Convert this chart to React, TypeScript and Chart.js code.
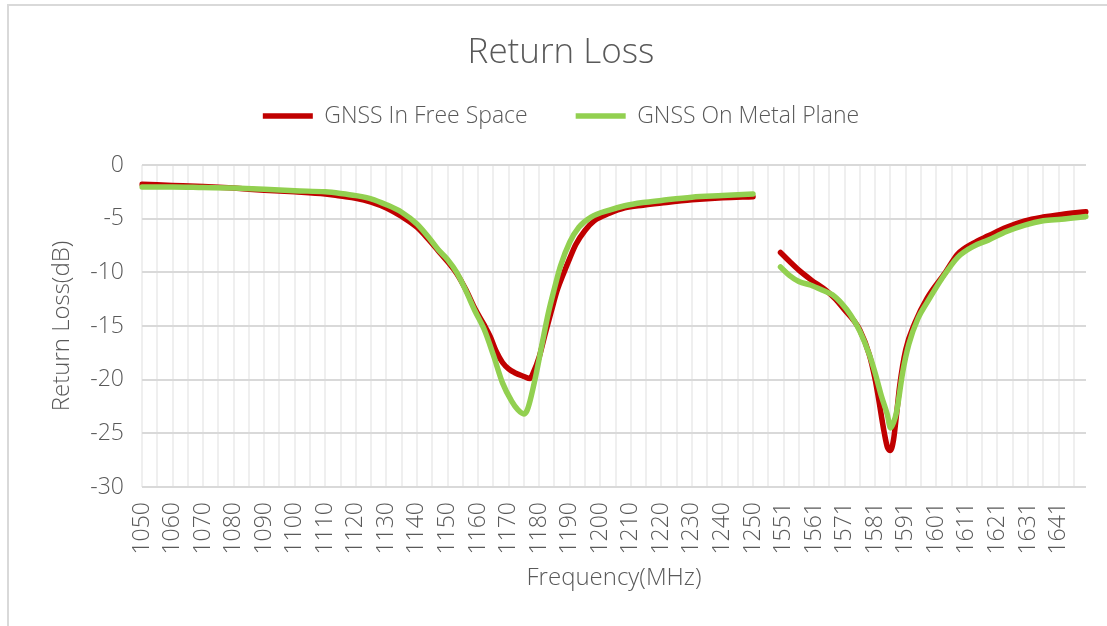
import React, { useEffect, useRef } from 'react';
import { Chart, registerables } from 'chart.js';

Chart.register(...registerables);

const FONT = '"Open Sans", "Noto Sans", sans-serif';
const TEXT_COLOR = '#595959';

const chartTitle = 'Return Loss';
const xAxisTitle = 'Frequency(MHz)';
const yAxisTitle = 'Return Loss(dB)';
const seriesNames = ['GNSS In Free Space', 'GNSS On Metal Plane'];
const seriesColors = ['#c00000', '#92d050'];

// category axis: 1050..1250, eight empty slots, 1550..1650
const band1Start = 1050;
const band1End = 1250;
const gapSlots = 8;
const band2Start = 1550;
const band2End = 1650;

const yMin = -30;
const yMax = 0;
const yStep = 5;
const labelEvery = 10;
const gridEvery = 5;

// GNSS In Free Space
const freeFreq1 = [1050, 1060, 1070, 1080, 1090, 1100, 1110, 1115, 1120, 1125, 1130, 1135, 1140, 1144, 1147, 1150, 1153, 1156, 1159, 1162, 1164, 1166, 1168, 1170, 1172, 1175, 1177, 1178, 1180, 1182, 1184, 1186, 1188, 1190, 1192, 1195, 1198, 1203, 1208, 1214, 1220, 1230, 1240, 1250];
const freeLoss1 = [-1.8, -1.9, -2.0, -2.15, -2.35, -2.5, -2.7, -2.9, -3.1, -3.45, -4.0, -4.8, -5.8, -7.0, -8.0, -9.0, -10.1, -11.6, -13.4, -14.9, -16.0, -17.4, -18.4, -19.0, -19.35, -19.7, -19.9, -19.4, -17.9, -15.7, -13.6, -11.6, -10.1, -8.7, -7.4, -6.1, -5.2, -4.5, -4.0, -3.75, -3.55, -3.25, -3.05, -2.95];
const freeFreq2 = [1550, 1553, 1556, 1560, 1565, 1568, 1571, 1574, 1576, 1579, 1581, 1582, 1584, 1585, 1586, 1587, 1588, 1589, 1591, 1594, 1598, 1604, 1608, 1613, 1618, 1624, 1630, 1636, 1642, 1650];
const freeLoss2 = [-8.15, -9.0, -9.8, -10.7, -11.7, -12.5, -13.5, -14.5, -15.4, -17.6, -20.0, -21.6, -25.0, -26.3, -26.6, -25.6, -23.2, -20.6, -17.2, -14.7, -12.4, -10.0, -8.3, -7.3, -6.6, -5.8, -5.2, -4.85, -4.6, -4.35];

// GNSS On Metal Plane
const metalFreq1 = [1050, 1060, 1070, 1080, 1090, 1100, 1110, 1115, 1120, 1125, 1130, 1135, 1140, 1144, 1147, 1150, 1153, 1156, 1159, 1162, 1165, 1168, 1171, 1173, 1175, 1176, 1177, 1179, 1181, 1183, 1185, 1187, 1190, 1193, 1197, 1203, 1208, 1214, 1220, 1230, 1240, 1250];
const metalLoss1 = [-2.05, -2.05, -2.1, -2.15, -2.25, -2.4, -2.5, -2.65, -2.85, -3.15, -3.7, -4.4, -5.5, -6.8, -7.9, -8.8, -10.0, -11.7, -13.6, -15.3, -17.7, -20.3, -22.0, -22.8, -23.2, -22.9, -22.0, -19.5, -16.6, -13.8, -11.5, -9.4, -7.2, -5.8, -4.85, -4.2, -3.8, -3.5, -3.3, -3.0, -2.85, -2.7];
const metalFreq2 = [1550, 1553, 1556, 1560, 1564, 1567, 1570, 1573, 1576, 1579, 1581, 1583, 1585, 1586, 1587, 1588, 1590, 1592, 1595, 1598, 1603, 1608, 1613, 1618, 1624, 1630, 1636, 1642, 1650];
const metalLoss2 = [-9.5, -10.3, -10.85, -11.2, -11.7, -12.1, -12.9, -14.0, -15.5, -17.6, -19.4, -21.5, -23.3, -24.5, -24.0, -23.0, -19.3, -16.7, -14.3, -12.8, -10.5, -8.6, -7.6, -7.0, -6.2, -5.6, -5.2, -5.05, -4.8];

const gapLabels: string[] = [];
for (let k = 1; k <= gapSlots; k++) gapLabels.push(' '.repeat(k));

const categoryLabels: string[] = [];
for (let f = band1Start; f <= band1End; f++) categoryLabels.push(String(f));
categoryLabels.push(...gapLabels);
for (let f = band2Start; f <= band2End; f++) categoryLabels.push(String(f));

function toPoints(f1: number[], v1: number[], f2: number[], v2: number[]) {
  return [
    ...f1.map((f, i) => ({ x: String(f), y: v1[i] })),
    { x: gapLabels[0], y: null },
    ...f2.map((f, i) => ({ x: String(f), y: v2[i] })),
  ];
}

export default function App() {
  const ref = useRef<HTMLCanvasElement>(null);

  useEffect(() => {
    const canvas = ref.current;
    if (!canvas) return;
    const chart = new Chart(canvas, {
      type: 'line',
      data: {
        labels: categoryLabels,
        datasets: [
          {
            label: seriesNames[0],
            data: toPoints(freeFreq1, freeLoss1, freeFreq2, freeLoss2) as any,
            borderColor: seriesColors[0],
            backgroundColor: seriesColors[0],
            borderWidth: 5.5,
            pointRadius: 0,
            pointHoverRadius: 0,
            cubicInterpolationMode: 'monotone',
            borderCapStyle: 'round',
            borderJoinStyle: 'round',
            order: 1,
          },
          {
            label: seriesNames[1],
            data: toPoints(metalFreq1, metalLoss1, metalFreq2, metalLoss2) as any,
            borderColor: seriesColors[1],
            backgroundColor: seriesColors[1],
            borderWidth: 5.5,
            pointRadius: 0,
            pointHoverRadius: 0,
            cubicInterpolationMode: 'monotone',
            borderCapStyle: 'round',
            borderJoinStyle: 'round',
            order: 0,
          },
        ],
      },
      options: {
        responsive: false,
        animation: false,
        devicePixelRatio: 1,
        events: [],
        layout: { padding: { left: 36, right: 21, top: 0, bottom: 0 } },
        plugins: {
          title: {
            display: true,
            text: chartTitle,
            color: TEXT_COLOR,
            font: { family: FONT, size: 35, weight: '300', lineHeight: 1.2 },
            padding: { top: 32, bottom: -17.5 },
          },
          subtitle: {
            display: true,
            text: ' ',
            weight: 500,
            font: { size: 1, lineHeight: 1 },
            padding: { top: 0, bottom: 26.5 },
          } as any,
          legend: {
            display: true,
            position: 'top',
            labels: {
              usePointStyle: true,
              pointStyle: 'line',
              pointStyleWidth: 50,
              color: TEXT_COLOR,
              font: { family: FONT, size: 23, weight: '300', lineHeight: 1 },
              padding: 48,
              sort: (a: any, b: any) => a.datasetIndex - b.datasetIndex,
            },
          },
          tooltip: { enabled: false },
        },
        scales: {
          x: {
            type: 'category',
            offset: false,
            grid: {
              color: (ctx: any) => (ctx.index % gridEvery === 0 ? '#efefef' : 'rgba(0,0,0,0)'),
              lineWidth: 2,
              drawTicks: false,
            },
            border: { display: false },
            ticks: {
              autoSkip: false,
              maxRotation: 90,
              minRotation: 90,
              padding: 15,
              color: TEXT_COLOR,
              font: { family: FONT, size: 23, weight: '300' },
              callback: (_v: any, i: number) => (i % labelEvery === 0 ? categoryLabels[i] : ''),
            },
            title: {
              display: true,
              text: xAxisTitle,
              color: TEXT_COLOR,
              font: { family: FONT, size: 24, weight: '300', lineHeight: 1.2 },
              padding: { top: 0, bottom: 33.6 },
            },
            afterFit: (s: any) => {
              s.height = 139;
              s.paddingLeft = 0;
              s.paddingRight = 0;
            },
          },
          y: {
            min: yMin,
            max: yMax,
            ticks: {
              stepSize: yStep,
              padding: 18,
              color: TEXT_COLOR,
              font: { family: FONT, size: 23, weight: '300' },
            },
            grid: { color: '#d9d9d9', lineWidth: 2, drawTicks: false },
            border: { display: false },
            title: {
              display: true,
              text: yAxisTitle,
              color: TEXT_COLOR,
              font: { family: FONT, size: 24, weight: '300', lineHeight: 1.2 },
              padding: { top: 11.6, bottom: 0 },
            },
            afterFit: (s: any) => {
              s.width = 106;
            },
          },
        },
      },
    });
    return () => chart.destroy();
  }, []);

  return (
    <div
      style={{
        position: 'fixed',
        left: 0,
        top: 0,
        width: 1107,
        height: 626,
        overflow: 'hidden',
        background: '#ffffff',
      }}
    >
      <div
        style={{
          position: 'absolute',
          left: 7,
          top: 4,
          width: 1200,
          height: 800,
          borderLeft: '2px solid #d9d9d9',
          borderTop: '2px solid #d9d9d9',
        }}
      />
      <canvas
        ref={ref}
        width={1107}
        height={626}
        style={{ position: 'absolute', left: 0, top: 0, width: 1107, height: 626 }}
      />
    </div>
  );
}
